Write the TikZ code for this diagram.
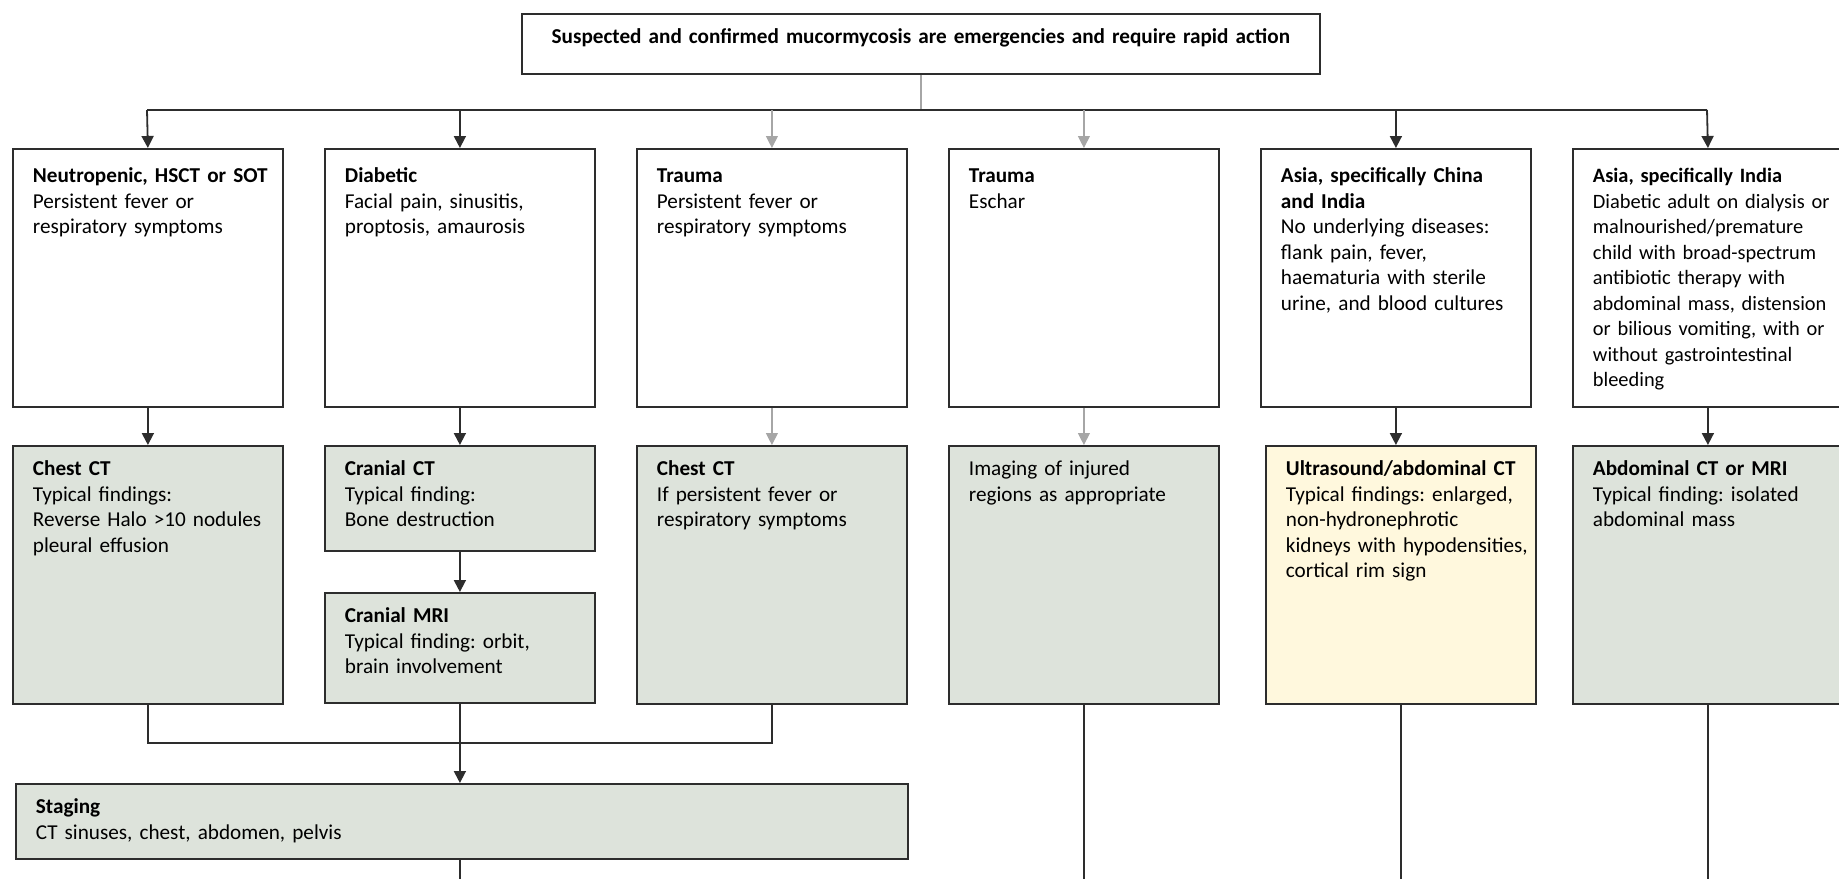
\documentclass[tikz,border=0pt]{standalone}
\usepackage{fontspec}
\setmainfont{Carlito}
\usetikzlibrary{arrows.meta}
\definecolor{sage}{RGB}{221,227,219}
\definecolor{cream}{RGB}{255,248,221}
\definecolor{edge}{RGB}{45,45,45}
\begin{document}
\begin{tikzpicture}[x=0.5pt,y=-0.5pt,line width=0.9pt]
\tikzset{every node/.style={draw=edge, anchor=north west, align=left, font=\fontsize{10.6}{12.75}\selectfont\frenchspacing, inner xsep=2.5pt, text width=130pt}}
\tikzstyle{inset}=[execute at begin node={\leftskip=7.5pt}]
\tikzstyle{cohort}=[inset, fill=white, inner ysep=9pt, text height=8pt, text depth=103pt]
\tikzstyle{scan}=[inset, fill=sage, inner ysep=8pt, text height=7pt, text depth=106pt]
\tikzstyle{alert}=[scan, fill=cream]
\tikzstyle{arr}=[draw=edge, -{Triangle[width=6pt,length=6pt]}]
\tikzstyle{soft}=[draw=gray!70, line width=0.6pt]
\useasboundingbox (0,0) rectangle (1839,878);
% header
\node[align=center, text width=379pt, inner xsep=10pt, inner ysep=8pt, text height=7pt, text depth=7pt] (top) at (521,13) {\textbf{Suspected and confirmed mucormycosis are emergencies and require rapid action}};
% patient groups
\node[cohort] (b1) at (12,148) {\textbf{Neutropenic, HSCT or SOT}\\Persistent fever or\\respiratory symptoms};
\node[cohort] (b2) at (324,148) {\textbf{Diabetic}\\Facial pain, sinusitis,\\proptosis, amaurosis};
\node[cohort] (b3) at (636,148) {\textbf{Trauma}\\Persistent fever or\\respiratory symptoms};
\node[cohort] (b4) at (948,148) {\textbf{Trauma}\\Eschar};
\node[cohort] (b5) at (1260,148) {\textbf{Asia, specifically China}\\\textbf{and India}\\No underlying diseases:\\flank pain, fever,\\haematuria with sterile\\urine, and blood cultures};
\node[cohort, font=\fontsize{10.2}{12.75}\selectfont] (b6) at (1572,148) {\textbf{Asia, specifically India}\\\mbox{Diabetic adult on dialysis or}\\malnourished/premature\\child with broad-spectrum\\antibiotic therapy with\\\mbox{abdominal mass, distension}\\or bilious vomiting, with or\\without gastrointestinal\\bleeding};
% imaging
\node[scan] (c1) at (12,445) {\textbf{Chest CT}\\Typical findings:\\Reverse Halo >10 nodules\\pleural effusion};
\node[scan, text depth=29.5pt] (c2) at (324,445) {\textbf{Cranial CT}\\Typical finding:\\Bone destruction};
\node[scan, text depth=32pt] (c3) at (324,592) {\textbf{Cranial MRI}\\Typical finding: orbit,\\brain involvement};
\node[scan] (c4) at (636,445) {\textbf{Chest CT}\\If persistent fever or\\respiratory symptoms};
\node[scan] (c5) at (948,445) {Imaging of injured\\regions as appropriate};
\node[alert] (c6) at (1265,445) {\textbf{Ultrasound/abdominal CT}\\Typical findings: enlarged,\\non-hydronephrotic\\kidneys with hypodensities,\\cortical rim sign};
\node[scan] (c7) at (1572,445) {\textbf{Abdominal CT or MRI}\\Typical finding: isolated\\abdominal mass};
\node[scan, text width=441pt, text depth=14.5pt] (stage) at (15,783) {\textbf{Staging}\\CT sinuses, chest, abdomen, pelvis};
% junctions
\coordinate (jl) at (147,110);
\coordinate (jr) at (1707,110);
\coordinate (jm) at (0,743);
\coordinate (bot) at (0,880);
% edges
\draw[soft] (top.south) -- (top.south |- jl);
\draw[draw=edge] (jl) -- (jr);
\draw[arr] (jl) -- (b1.north);
\draw[arr] (b2.north |- jl) -- (b2.north);
\draw[arr, soft] (b3.north |- jl) -- (b3.north);
\draw[arr, soft] (b4.north |- jl) -- (b4.north);
\draw[arr] (b5.north |- jl) -- (b5.north);
\draw[arr] (jr) -- (b6.north);
\draw[arr] (b1.south) -- (c1.north);
\draw[arr] (b2.south) -- (c2.north);
\draw[arr, soft] (b3.south) -- (c4.north);
\draw[arr, soft] (b4.south) -- (c5.north);
\draw[arr] (b5.south) -- (b5.south |- c6.north);
\draw[arr] (b6.south) -- (c7.north);
\draw[arr] (c2.south) -- (c3.north);
\draw[draw=edge] (c1.south) -- (c1.south |- jm) -| (c4.south);
\draw[arr] (c3.south) -- (stage.north -| c3.south);
\draw[draw=edge] (stage.south -| c3.south) -- (c3.south |- bot);
\draw[draw=edge] (c5.south) -- (c5.south |- bot);
\draw[draw=edge] (c6.south) -- (c6.south |- bot);
\draw[draw=edge] (c7.south) -- (c7.south |- bot);
\end{tikzpicture}
\end{document}
